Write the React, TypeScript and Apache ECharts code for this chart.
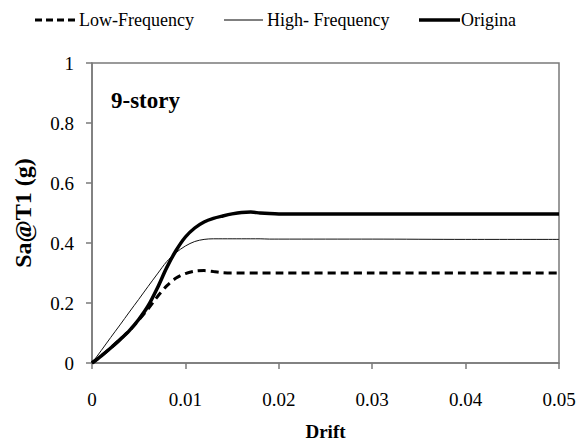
import React, { useEffect, useRef } from "react";
import * as echarts from "echarts";

// Drift values (x) and spectral acceleration Sa@T1 in g for each record set
const drift = [0, 0.001, 0.002, 0.003, 0.004, 0.005, 0.006, 0.007, 0.008, 0.009, 0.01, 0.011, 0.012, 0.013, 0.014, 0.015, 0.016, 0.017, 0.018, 0.019, 0.02, 0.03, 0.04, 0.05];
const lowFrequency = [0, 0.024, 0.05, 0.078, 0.108, 0.143, 0.18, 0.221, 0.257, 0.283, 0.298, 0.306, 0.308, 0.305, 0.301, 0.3, 0.3, 0.3, 0.3, 0.3, 0.3, 0.3, 0.3, 0.3];
const highFrequency = [0, 0.042, 0.085, 0.127, 0.17, 0.212, 0.255, 0.297, 0.338, 0.368, 0.39, 0.405, 0.412, 0.414, 0.414, 0.414, 0.414, 0.414, 0.414, 0.413, 0.413, 0.413, 0.412, 0.412];
const original = [0, 0.024, 0.05, 0.078, 0.108, 0.145, 0.19, 0.25, 0.318, 0.375, 0.42, 0.45, 0.47, 0.482, 0.49, 0.497, 0.502, 0.503, 0.5, 0.498, 0.497, 0.497, 0.497, 0.497];

const seriesNames = ["Low-Frequency", "High- Frequency", "Original"];
// Legend captions as printed (the last one is truncated on the figure)
const legendLabels = ["Low-Frequency", "High- Frequency", "Origina"];
const xTicks = [0, 0.01, 0.02, 0.03, 0.04, 0.05];
const yTicks = [0, 0.2, 0.4, 0.6, 0.8, 1];

const FONT = "Liberation Serif";

const pairs = (ys: number[]) => drift.map((x, i) => [x, ys[i]]);

// Legend row: sample line followed by the caption
const legendItems = [
  { label: legendLabels[0], x1: 35, x2: 76, tx: 79, width: 3, dash: [7, 4] },
  { label: legendLabels[1], x1: 224, x2: 263, tx: 267, width: 1, dash: null },
  { label: legendLabels[2], x1: 419, x2: 460, tx: 461, width: 3.5, dash: null },
];

export default function App() {
  const ref = useRef<HTMLDivElement>(null);

  useEffect(() => {
    document.body.style.margin = "0";
    if (!ref.current) return;
    const chart = echarts.init(ref.current, null, { renderer: "svg" });

    const legendGraphics: any[] = [];
    legendItems.forEach((it) => {
      legendGraphics.push({
        type: "line",
        shape: { x1: it.x1, y1: 20, x2: it.x2, y2: 20 },
        style: { stroke: "#000", lineWidth: it.width, lineDash: it.dash || undefined },
      });
      legendGraphics.push({
        type: "text",
        x: it.tx,
        y: 11,
        style: {
          text: it.label,
          fontFamily: FONT,
          fontSize: 18,
          fill: "#000",
        },
      });
    });

    chart.setOption({
      animation: false,
      backgroundColor: "#ffffff",
      textStyle: { fontFamily: FONT },
      grid: {
        left: 92,
        right: 17,
        top: 63,
        bottom: 80,
        show: true,
        containLabel: false,
        outerBoundsMode: "none",
        borderColor: "#7a7a7a",
        borderWidth: 1.5,
        backgroundColor: "transparent",
      },
      xAxis: {
        type: "value",
        min: 0,
        max: 0.05,
        interval: 0.01,
        name: "Drift",
        nameLocation: "middle",
        nameGap: 59,
        nameTextStyle: { fontFamily: FONT, fontSize: 19, fontWeight: "bold", color: "#000" },
        axisLine: { show: true, lineStyle: { color: "#7a7a7a", width: 1.5 } },
        axisTick: { show: true, inside: false, length: 6, lineStyle: { color: "#7a7a7a", width: 1.5 } },
        splitLine: { show: false },
        axisLabel: {
          fontFamily: FONT,
          fontSize: 19,
          color: "#000",
          margin: 27,
          formatter: (v: number) => {
            const t = xTicks.find((k) => Math.abs(k - v) < 1e-9);
            return t === undefined ? "" : String(t);
          },
        },
      },
      yAxis: {
        type: "value",
        min: 0,
        max: 1,
        interval: 0.2,
        name: "Sa@T1 (g)",
        nameLocation: "middle",
        nameGap: 57,
        nameTextStyle: { fontFamily: FONT, fontSize: 24, fontWeight: "bold", color: "#000" },
        axisLine: { show: true, lineStyle: { color: "#7a7a7a", width: 1.5 } },
        axisTick: { show: true, inside: false, length: 6, lineStyle: { color: "#7a7a7a", width: 1.5 } },
        splitLine: { show: false },
        axisLabel: {
          fontFamily: FONT,
          fontSize: 19,
          color: "#000",
          margin: 18,
          formatter: (v: number) => {
            const t = yTicks.find((k) => Math.abs(k - v) < 1e-9);
            return t === undefined ? "" : String(t);
          },
        },
      },
      graphic: [
        ...legendGraphics,
        {
          type: "text",
          x: 111,
          y: 89,
          style: { text: "9-story", fontFamily: FONT, fontSize: 23, fontWeight: "bold", fill: "#000" },
        },
      ],
      series: [
        {
          name: seriesNames[0],
          type: "line",
          data: pairs(lowFrequency),
          smooth: 0.3,
          symbol: "none",
          lineStyle: { color: "#000", width: 3, type: [8, 5] },
          z: 3,
        },
        {
          name: seriesNames[1],
          type: "line",
          data: pairs(highFrequency),
          smooth: 0.3,
          symbol: "none",
          lineStyle: { color: "#111", width: 1 },
          z: 2,
        },
        {
          name: seriesNames[2],
          type: "line",
          data: pairs(original),
          smooth: 0.3,
          symbol: "none",
          lineStyle: { color: "#000", width: 3.5 },
          z: 4,
        },
      ],
    });
    return () => chart.dispose();
  }, []);

  return (
    <div>
      <div ref={ref} style={{ width: 576, height: 443 }} />
    </div>
  );
}
